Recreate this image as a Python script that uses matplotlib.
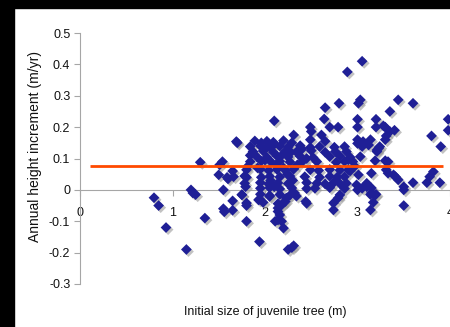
import matplotlib
matplotlib.use('Agg')
import matplotlib.pyplot as plt
import matplotlib.patheffects as pe
from matplotlib.patches import Rectangle

# points: (initial size m, annual increment m/yr)
sparse_left = [(0.80, -0.025), (0.85, -0.05), (0.93, -0.12), (1.15, -0.19), (1.20, 0.0),
               (1.22, -0.01), (1.25, -0.015), (1.35, -0.09), (1.30, 0.088), (1.55, 0.0),
               (1.55, -0.06), (1.56, -0.07), (1.65, -0.035), (1.65, -0.065), (1.75, -0.015),
               (1.79, 0.01), (1.80, -0.05), (1.80, -0.10), (1.94, -0.165), (1.94, -0.03),
               (1.70, 0.15), (1.54, 0.09), (1.51, 0.08), (1.50, 0.048), (1.65, 0.06),
               (1.59, 0.04), (1.81, 0.074), (1.84, 0.11), (1.60, 0.035), (1.80, 0.04)]

core = [(1.69, 0.154), (1.89, 0.156), (1.96, 0.150), (2.02, 0.155), (2.09, 0.152), (2.20, 0.157), (2.29, 0.150),
        (1.84, 0.138), (1.95, 0.140), (2.05, 0.136), (2.16, 0.139), (2.25, 0.137), (2.38, 0.141), (2.49, 0.135), (2.59, 0.138),
        (1.87, 0.122), (1.98, 0.124), (2.09, 0.120), (2.22, 0.123), (2.34, 0.121), (2.50, 0.125), (2.65, 0.120), (2.76, 0.122), (2.88, 0.122),
        (1.91, 0.106), (2.02, 0.104), (2.13, 0.108), (2.25, 0.105), (2.38, 0.107), (2.52, 0.103), (2.70, 0.106), (2.81, 0.108), (2.92, 0.104), (3.03, 0.106),
        (1.84, 0.090), (1.96, 0.092), (2.07, 0.088), (2.16, 0.091), (2.27, 0.089), (2.41, 0.092), (2.56, 0.090), (2.77, 0.088), (2.86, 0.091), (2.95, 0.090),
        (1.80, 0.064), (1.95, 0.066), (2.04, 0.062), (2.13, 0.065), (2.22, 0.063), (2.31, 0.066), (2.49, 0.064), (2.58, 0.062), (2.70, 0.065), (2.81, 0.063), (2.90, 0.064),
        (1.66, 0.042), (1.78, 0.044), (1.96, 0.040), (2.05, 0.043), (2.16, 0.041), (2.27, 0.044), (2.43, 0.042), (2.59, 0.040), (2.70, 0.043), (2.78, 0.041), (2.86, 0.042),
        (1.78, 0.021), (1.95, 0.023), (2.04, 0.019), (2.14, 0.022), (2.25, 0.020), (2.45, 0.023), (2.56, 0.021), (2.65, 0.019), (2.74, 0.022), (2.81, 0.020), (2.88, 0.021), (3.10, 0.021),
        (1.95, 0.005), (2.05, 0.007), (2.16, 0.003), (2.29, 0.006), (2.45, 0.004), (2.54, 0.005), (2.70, 0.007), (2.86, 0.004), (3.05, 0.005), (3.15, 0.006),
        (1.75, -0.016), (1.95, -0.014), (2.05, -0.018), (2.16, -0.015), (2.27, -0.017), (2.81, -0.016), (3.14, -0.015), (3.19, -0.017),
        (1.80, -0.042), (1.98, -0.040), (2.14, -0.044), (2.20, -0.041), (2.45, -0.043), (2.74, -0.042), (3.17, -0.040),
        (2.00, 0.130), (2.10, 0.145), (2.18, 0.110), (2.28, 0.120), (2.12, 0.080), (2.20, 0.070), (2.06, 0.030),
        (2.24, 0.050), (2.10, 0.010), (2.30, 0.030), (2.35, 0.080), (2.40, 0.130), (2.45, 0.100), (2.00, 0.095),
        (1.92, 0.070), (2.92, 0.060), (2.97, 0.075)]

lower = [(2.11, -0.10), (2.14, -0.096), (2.18, -0.10), (2.20, -0.122), (2.14, -0.058), (2.14, -0.069),
         (2.16, -0.08), (2.18, -0.048), (2.22, -0.037), (2.23, -0.026), (1.93, -0.032), (2.05, -0.021),
         (2.44, -0.037), (2.32, -0.01), (2.34, -0.02), (2.74, -0.064), (2.79, -0.026), (2.25, -0.19),
         (2.31, -0.178), (2.29, -0.184), (3.14, -0.064), (3.50, -0.05), (3.15, -0.01), (3.20, -0.014)]

upper = [(2.89, 0.376), (3.05, 0.41), (2.80, 0.276), (2.65, 0.262), (2.64, 0.226), (2.70, 0.20),
         (2.79, 0.20), (2.10, 0.22), (2.49, 0.20), (2.50, 0.186), (2.31, 0.175), (2.61, 0.175),
         (2.49, 0.16), (2.65, 0.155), (2.75, 0.136), (2.86, 0.138), (3.01, 0.276), (3.03, 0.287),
         (3.44, 0.287), (3.60, 0.276), (3.35, 0.25), (3.98, 0.225), (3.98, 0.19), (3.80, 0.172),
         (3.90, 0.138), (3.00, 0.225), (3.00, 0.20), (3.20, 0.225), (3.20, 0.20), (3.30, 0.20),
         (3.35, 0.186), (3.40, 0.19), (3.31, 0.172), (3.30, 0.16), (3.00, 0.16), (3.00, 0.148),
         (3.05, 0.138), (3.12, 0.143), (3.23, 0.133), (3.21, 0.122), (2.90, 0.096), (3.19, 0.093),
         (3.30, 0.093), (3.33, 0.09), (3.06, 0.154), (3.14, 0.16), (3.28, 0.204), (3.24, 0.138),
         (3.21, 0.127)]

right = [(3.01, 0.048), (3.15, 0.053), (3.33, 0.053), (3.41, 0.042), (3.82, 0.058), (3.78, 0.042),
         (3.31, 0.064), (3.39, 0.048), (3.44, 0.032), (3.50, 0.01), (3.50, 0.0), (3.60, 0.023),
         (3.75, 0.023), (3.89, 0.023), (2.99, 0.016), (3.00, 0.0), (3.10, 0.01)]

fit_x = [0.11, 3.92]
fit_y = [0.077, 0.077]

xticks = [0, 1, 2, 3, 4]
yticks = [-0.3, -0.2, -0.1, 0, 0.1, 0.2, 0.3, 0.4, 0.5]

pts = sparse_left + core + lower + upper + right
xs = [p[0] for p in pts]
ys = [p[1] for p in pts]

plt.rcParams['font.family'] = ['Liberation Sans', 'DejaVu Sans']

fig = plt.figure(figsize=(4.5, 3.27), dpi=100)
fig.patch.set_facecolor('white')
# black frame strips along top and left edges
fig.patches.append(Rectangle((0, 0), 14 / 450, 1, transform=fig.transFigure, color='black', zorder=10))
fig.patches.append(Rectangle((0, 1 - 8 / 327), 1, 8 / 327, transform=fig.transFigure, color='black', zorder=10))

ax = fig.add_axes([80 / 450, 1 - 284 / 327, 370 / 450, 251 / 327])
ax.set_facecolor('none')

shadow = [pe.SimplePatchShadow(offset=(1.5, -1.5), shadow_rgbFace='#9a9a9a', alpha=0.6), pe.Normal()]
ax.scatter(xs, ys, marker='D', s=30, color='#1f1f96', linewidths=0, path_effects=shadow,
           clip_on=False, zorder=3)
ax.plot(fit_x, fit_y, color='#ff4a00', lw=2, zorder=4, solid_capstyle='butt')

ax.set_xlim(0, 4)
ax.set_ylim(-0.3, 0.5)
for s in ['top', 'right']:
    ax.spines[s].set_visible(False)
ax.spines['bottom'].set_position(('data', 0))
for s in ['left', 'bottom']:
    ax.spines[s].set_color('#a6a6a6')
    ax.spines[s].set_linewidth(0.8)

ax.set_xticks(xticks)
ax.set_xticklabels([str(t) for t in xticks])
ax.set_yticks(yticks)
ax.set_yticklabels(['%g' % t for t in yticks])
ax.tick_params(axis='both', direction='out', length=4, width=0.8, color='#a6a6a6',
               labelsize=9, labelcolor='#111111')
ax.tick_params(axis='x', pad=8.5)
ax.tick_params(axis='y', pad=3)

fig.text(35 / 450, 1 - 147 / 327, 'Annual height increment (m/yr)', rotation=90,
         ha='center', va='center', fontsize=10, color='#111111')
fig.text(265 / 450, 1 - 312 / 327, 'Initial size of juvenile tree (m)',
         ha='center', va='center', fontsize=9, color='#111111')

fig.savefig('out.png', dpi=100)
